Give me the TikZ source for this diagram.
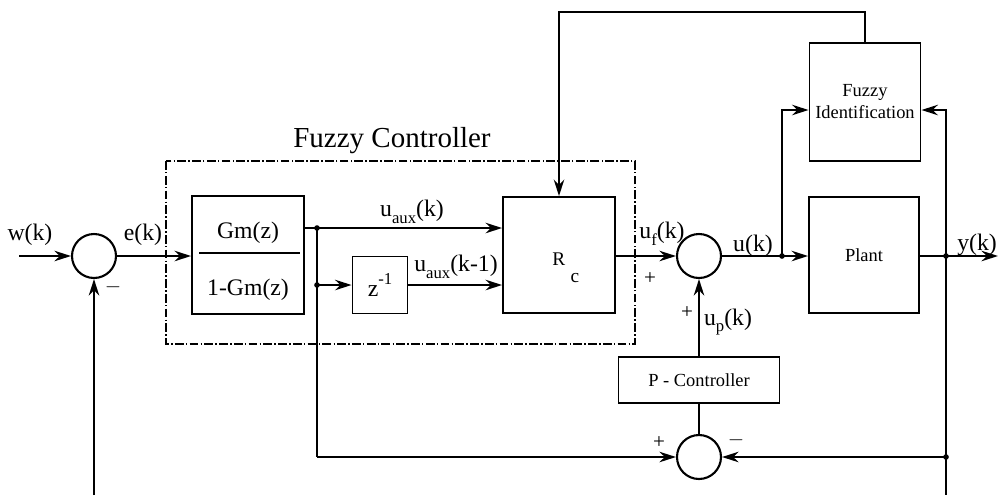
\documentclass[tikz,border=0pt]{standalone}
\usepackage{fontspec}
\setmainfont{Liberation Serif}
\usetikzlibrary{arrows.meta,positioning}
\newcommand{\lowsub}[1]{\raisebox{-0.6ex}{\fontsize{9.5}{10}\selectfont #1}}
\newcommand{\highsup}[1]{\raisebox{1.1ex}{\fontsize{9.5}{10}\selectfont #1}}

\begin{document}
\begin{tikzpicture}[
  x=0.02cm, y=-0.02cm,
  box/.style={draw, line width=1.1pt, inner sep=0pt, align=center,
    font=\fontsize{10.5}{12.5}\selectfont},
  summer/.style={draw, circle, line width=1.2pt, minimum size=0.88cm, inner sep=0pt},
  flow/.style={-{Stealth[length=3.3mm, width=2.1mm]}, line width=1.1pt},
  wire/.style={line width=1.1pt},
  sig/.style={font=\fontsize{13.5}{15}\selectfont, inner sep=1pt},
  sgn/.style={font=\fontsize{12}{13}\selectfont, inner sep=0pt},
  frame/.style={line width=1.5pt, dash pattern=on 5pt off 1.3pt on 0.8pt off 1.3pt}
]
\useasboundingbox (0,0) rectangle (998,495);

% fuzzy controller frame
\draw[frame] (166,161) rectangle (635,344);
\node[font=\fontsize{16.5}{18}\selectfont, anchor=base] (fctitle) at (392,147) {Fuzzy Controller};

% blocks
\node[summer] (sumw) at (94,256) {};
\node[box, minimum width=2.24cm, minimum height=2.36cm] (gm) at (248,255) {};
\node[sig] (gmnum) at (248,233) {Gm(z)};
\node[sig] (gmden) at (248,290) {1-Gm(z)};
\draw[wire] (199,253) -- (300,253);
\node[box, minimum width=1.1cm, minimum height=1.14cm, font=\fontsize{13.5}{15}\selectfont] (zinv) at (380,285) {z\highsup{-1}};
\node[box, minimum width=2.24cm, minimum height=2.32cm] (rc) at (559,255) {};
\node[font=\fontsize{11}{12}\selectfont, anchor=base west, inner sep=0pt] (rclabel) at (552,265) {R\hspace{3pt}\raisebox{-2ex}{c}};
\node[summer] (sumu) at (699,256) {};
\node[box, minimum width=2.22cm, minimum height=2.36cm] (fid) at (865,102) {Fuzzy\\Identification};
\node[box, minimum width=2.2cm, minimum height=2.32cm] (plant) at (864,255) {Plant};
\node[box, minimum width=3.22cm, minimum height=0.92cm] (pctrl) at (699,380) {P - Controller};
\node[summer] (sump) at (699,457) {};

% branch points and free ends
\coordinate (win) at (19,256);
\coordinate (fbl) at (94,495);
\coordinate (ja) at (317,228);
\coordinate (jb) at (317,285);
\coordinate (jc) at (317,457);
\coordinate (ju) at (782,256);
\coordinate (jy) at (946,256);
\coordinate (jd) at (946,457);
\coordinate (yout) at (998,256);
\coordinate (fbr) at (946,495);

% connectors
\draw[flow] (win) -- (sumw.west);
\draw[flow] (sumw.east) -- (sumw.east -| gm.west);
\draw[flow] (fbl) -- (sumw.south);
\draw[wire] (gm.east |- ja) -- (ja);
\draw[flow] (ja) -- (ja -| rc.west);
\draw[wire] (ja) -- (jc);
\draw[flow] (jc) -- (sump.west);
\draw[flow] (jb) -- (zinv.west);
\draw[flow] (zinv.east) -- (zinv.east -| rc.west);
\draw[flow] (rc.east |- sumu) -- (sumu.west);
\draw[wire] (sumu.east) -- (ju);
\draw[flow] (ju) -- (plant.west |- ju);
\draw[flow] (ju) |- ([yshift=-0.16cm]fid.west);
\draw[wire] (plant.east |- jy) -- (jy);
\draw[flow] (jy) -- (yout);
\draw[flow] (jy) |- ([yshift=-0.16cm]fid.east);
\draw[wire] (jy) -- (fbr);
\draw[flow] (jd) -- (sump.east);
\draw[flow] (pctrl.north) -- (sumu.south);
\draw[wire] (sump.north) -- (pctrl.south);
\draw[flow] (fid.north) -- ++(0,-30) -| (rc.north);
\foreach \j in {ja,jb,ju,jy,jd}
  \fill (\j) circle[radius=1.6pt];

% signal labels
\node[sig] (wlab) at (30,235) {w(k)};
\node[sig] (elab) at (143,235) {e(k)};
\node[sig] (uauxlab) at (412,212) {u\lowsub{aux}(k)};
\node[sig] (uauxdlab) at (456,267) {u\lowsub{aux}(k-1)};
\node[sig] (uflab) at (662,234) {u\lowsub{f}(k)};
\node[sig] (ulab) at (753,246) {u(k)};
\node[sig] (uplab) at (728,322) {u\lowsub{p}(k)};
\node[sig] (ylab) at (977,245) {y(k)};

% signs
\node[sgn] (sgnw) at (113,287) {$-$};
\node[sgn] (sgnf) at (650,279) {+};
\node[sgn] (sgnp) at (687,313) {+};
\node[sgn] (sgnl) at (659,443) {+};
\node[sgn] (sgnr) at (736,440) {$-$};
\end{tikzpicture}
\end{document}
